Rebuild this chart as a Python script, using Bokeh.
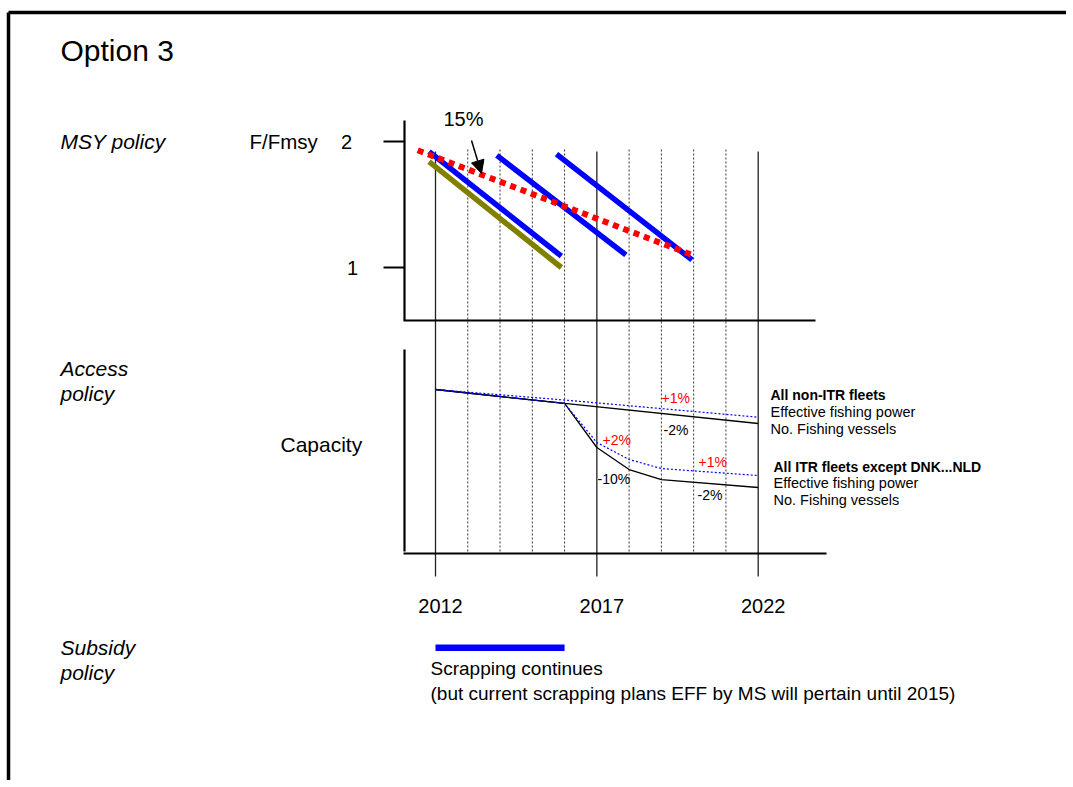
from bokeh.plotting import figure
from bokeh.models import Range1d, Arrow, NormalHead
from bokeh.core.properties import value
from bokeh.embed import file_html
from bokeh.resources import INLINE

# ---------------- data ----------------
grid_years = [2012, 2013, 2014, 2015, 2016, 2017, 2018, 2019, 2020, 2021, 2022]
solid_years = [2012, 2017, 2022]
year_tick_labels = ["2012", "2017", "2022"]
f_ticks = [2, 1]
f_tick_labels = ["2", "1"]

# F/Fmsy trajectories
blue1_x = [2011.8, 2015.9]
blue1_f = [1.92, 1.09]
blue2_x = [2013.9, 2017.9]
blue2_f = [1.89, 1.10]
blue3_x = [2015.75, 2019.95]
blue3_f = [1.90, 1.06]
olive_x = [2011.8, 2015.9]
olive_f = [1.84, 1.00]
red_x = [2011.45, 2020.05]
red_f = [1.93, 1.09]

# Capacity index (2012 = 100)
nonitr_years = [2012, 2016, 2022]
nonitr_vessels = [100, 91.4, 79.0]
nonitr_power = [100, 93.5, 82.9]
itr_years = [2012, 2016, 2017, 2018, 2019, 2022]
itr_vessels = [100, 91.4, 64.2, 50.6, 44.4, 39.5]
itr_power = [100, 91.4, 67.3, 56.8, 51.2, 46.9]

scrap_years = [2012, 2016]

# ---------------- layout ----------------
W, H = 1066, 780
O = 0  # page origin of the canvas
FONT = value("Liberation Sans")

X2012, PX_YR = 435.0, 32.27
F2_Y, PX_F = 141.0, 126.0
CAP0_Y, PX_CAP = 551.0, 1.62

p = figure(width=W, height=H, output_backend="svg", toolbar_location=None,
           x_range=Range1d(O, O + W), y_range=Range1d(O + H, O),
           x_axis_location=None, y_axis_location=None, min_border=0)
p.grid.visible = False
p.outline_line_color = None
p.background_fill_color = "white"
p.border_fill_color = "white"

p.extra_x_ranges = {"yr": Range1d(2012 + (O - X2012) / PX_YR, 2012 + (O + W - X2012) / PX_YR)}
p.extra_y_ranges = {
    "f": Range1d(2 - (O + H - F2_Y) / PX_F, 2 - (O - F2_Y) / PX_F),
    "cap": Range1d((CAP0_Y - (O + H)) / PX_CAP, (CAP0_Y - O) / PX_CAP),
}

# slide frame
p.line([8, 8], [12, O + H], line_color="black", line_width=3.5)
p.line([8, O + W], [12, 12], line_color="black", line_width=3.5)

# vertical year lines
dotted = [y for y in grid_years if y not in solid_years]
p.segment(x0=dotted, y0=[149] * len(dotted), x1=dotted, y1=[553] * len(dotted),
          x_range_name="yr", line_color="#333333", line_width=1, line_dash="2 2")
p.segment(x0=solid_years, y0=[151] * 3, x1=solid_years, y1=[576] * 3,
          x_range_name="yr", line_color="#222222", line_width=1.3)

# axes (drawn)
p.line([404, 404], [120, 320], line_color="black", line_width=2.2)
p.line([403, 815], [320, 320], line_color="black", line_width=2.2)
p.line([404, 404], [349, 551], line_color="black", line_width=2.2)
p.line([403, 826], [553, 553], line_color="black", line_width=2.2)
p.segment(x0=[383, 383], y0=f_ticks, x1=[404, 404], y1=f_ticks, y_range_name="f",
          line_color="black", line_width=2)

# F/Fmsy lines
p.line(olive_x, olive_f, x_range_name="yr", y_range_name="f", line_color="#808000", line_width=5.5)
for xs, fs in [(blue1_x, blue1_f), (blue2_x, blue2_f), (blue3_x, blue3_f)]:
    p.line(xs, fs, x_range_name="yr", y_range_name="f", line_color="#0000FF", line_width=5.5)
p.line(red_x, red_f, x_range_name="yr", y_range_name="f", line_color="#FF0000",
       line_width=6, line_dash="6 5")

# capacity lines
p.line(itr_years, itr_vessels, x_range_name="yr", y_range_name="cap", line_color="black", line_width=1.3)
p.line(nonitr_years, nonitr_vessels, x_range_name="yr", y_range_name="cap", line_color="black", line_width=1.3)
p.line(itr_years, itr_power, x_range_name="yr", y_range_name="cap", line_color="#0000FF",
       line_width=1.2, line_dash="2 2")
p.line(nonitr_years, nonitr_power, x_range_name="yr", y_range_name="cap", line_color="#0000FF",
       line_width=1.2, line_dash="2 2")

# subsidy bar
p.line(scrap_years, [647.3, 647.3], x_range_name="yr", line_color="#0000FF", line_width=6.5)

# arrow
p.add_layout(Arrow(end=NormalHead(size=13, fill_color="black", line_color="black"),
                   x_start=471, y_start=140, x_end=481, y_end=173,
                   line_color="black", line_width=1.5))

def txt(x, y, s, size, style="normal", color="black", align="left", **kw):
    p.text(x=x, y=y, text=s, text_font=FONT, text_font_size=value(size),
           text_font_style=style, text_color=color, text_align=align,
           text_baseline="middle", **kw)

txt([60], [50], ["Option 3"], "30px")
txt([60], [141], ["MSY policy"], "21px", "italic")
txt([60, 60], [368, 393], ["Access", "policy"], "21px", "italic")
txt([60, 60], [647, 672], ["Subsidy", "policy"], "21px", "italic")
txt([249], [141], ["F/Fmsy"], "20.5px")
txt([280], [444], ["Capacity"], "21px")
txt([463], [118], ["15%"], "20px", align="center")

# F ticks labels
txt([346, 352], [F2_Y, F2_Y + PX_F], f_tick_labels, "20px", align="center")
# year tick labels
p.text(x=[int(s) for s in year_tick_labels], y=[605] * 3, text=year_tick_labels,
       x_range_name="yr", x_offset=5, text_font=FONT, text_font_size=value("20px"),
       text_align="center", text_baseline="middle", text_color="black")

txt([430, 430], [668, 693], ["Scrapping continues",
                             "(but current scrapping plans EFF by MS will pertain until 2015)"], "19px")

# percentage labels
txt([661, 602, 698], [397, 439, 461], ["+1%", "+2%", "+1%"], "14px", color="#FF0000")
txt([663, 597, 697], [429, 478, 494], ["-2%", "-10%", "-2%"], "14px")

# legend blocks
txt([770], [394], ["All non-ITR fleets"], "14px", "bold")
txt([770, 770], [411, 428], ["Effective fishing power", "No. Fishing vessels"], "14.5px")
txt([773], [466], ["All ITR fleets except DNK...NLD"], "14px", "bold")
txt([773, 773], [482.5, 499], ["Effective fishing power", "No. Fishing vessels"], "14.5px")

open("out.html", "w").write(file_html(p, INLINE))
